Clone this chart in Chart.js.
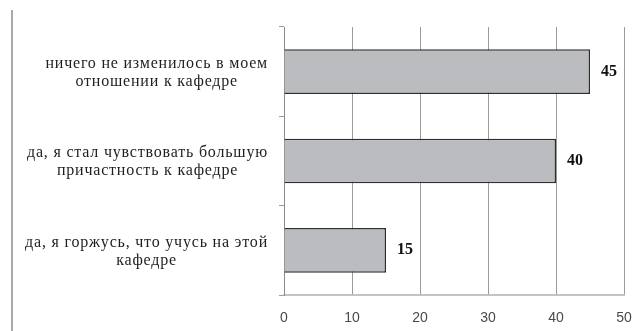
<!DOCTYPE html>
<html>
<head>
<meta charset="utf-8">
<script src="https://cdn.jsdelivr.net/npm/chart.js@4/dist/chart.umd.min.js"></script>
<style>
  html, body { margin: 0; padding: 0; background: #fff; }
  #wrap { width: 640px; height: 331px; position: relative; }
</style>
</head>
<body>
<div id="wrap"><canvas id="c" width="640" height="331"></canvas></div>
<script>
// Survey answers (each answer split into its display lines)
const categories = [
  ["ничего не изменилось в моем", "отношении к кафедре"],
  ["да, я стал чувствовать большую", "причастность к кафедре"],
  ["да, я горжусь, что учусь на этой", "кафедре"]
];
// Share of respondents, %
const values = [45, 40, 15];
// Value axis ticks
const xTicks = [0, 10, 20, 30, 40, 50];

const serif = '"Liberation Serif", "Times New Roman", serif';
const sans = '"Liberation Sans", Arial, sans-serif';

// Page frame line on the left
const frameLine = {
  id: 'frameLine',
  beforeDraw(chart) {
    const ctx = chart.ctx;
    ctx.save();
    ctx.fillStyle = '#fff';
    ctx.fillRect(0, 0, chart.width, chart.height);
    ctx.strokeStyle = '#aaaaaa';
    ctx.lineWidth = 2;
    ctx.beginPath();
    ctx.moveTo(12, 10);
    ctx.lineTo(12, chart.height);
    ctx.stroke();
    ctx.restore();
  }
};

// Category labels: each block right-aligned against the axis, lines centred inside the block
const categoryLabels = {
  id: 'categoryLabels',
  afterDraw(chart) {
    const ctx = chart.ctx;
    const y = chart.scales.y;
    const rightEdge = 268;
    const lineH = 18;
    ctx.save();
    ctx.font = '16px ' + serif;
    ctx.letterSpacing = '0.8px';
    ctx.fillStyle = '#1e1e1e';
    ctx.textBaseline = 'middle';
    ctx.textAlign = 'center';
    chart.data.labels.forEach((lines, i) => {
      const cy = y.getPixelForValue(i) + 1;
      const w = Math.max(...lines.map(l => ctx.measureText(l).width));
      const cx = rightEdge - w / 2;
      const y0 = cy - (lines.length - 1) * lineH / 2;
      lines.forEach((l, k) => ctx.fillText(l, cx, y0 + k * lineH));
    });
    ctx.letterSpacing = '0px';
    ctx.restore();
  }
};

// Value labels to the right of each bar
const valueLabels = {
  id: 'valueLabels',
  afterDatasetsDraw(chart) {
    const ctx = chart.ctx;
    const meta = chart.getDatasetMeta(0);
    ctx.save();
    ctx.font = 'bold 16px ' + serif;
    ctx.fillStyle = '#111';
    ctx.textBaseline = 'middle';
    ctx.textAlign = 'left';
    meta.data.forEach((bar, i) => {
      ctx.fillText(String(chart.data.datasets[0].data[i]), bar.x + 11, bar.y);
    });
    ctx.restore();
  }
};

new Chart(document.getElementById('c'), {
  type: 'bar',
  data: {
    labels: categories,
    datasets: [{
      data: values,
      backgroundColor: '#bbbcc0',
      borderColor: '#2e2e2e',
      borderWidth: 1.5,
      borderSkipped: 'start',
      barPercentage: 0.5,
      categoryPercentage: 1
    }]
  },
  options: {
    indexAxis: 'y',
    responsive: false,
    animation: false,
    layout: { padding: { top: 27, right: 16, left: 0, bottom: 0 } },
    plugins: { legend: { display: false }, tooltip: { enabled: false } },
    scales: {
      x: {
        min: 0,
        max: 50,
        afterBuildTicks(scale) { scale.ticks = xTicks.map(v => ({ value: v })); },
        afterFit(scale) { scale.height = 36; },
        grid: { color: '#9a9a9a', lineWidth: 1, drawTicks: true, tickLength: 15, tickColor: 'rgba(0,0,0,0)' },
        border: { display: true, color: '#c4c4c4', width: 2 },
        ticks: { font: { family: sans, size: 14 }, color: '#4a4a4a', padding: 0 }
      },
      y: {
        afterFit(scale) { scale.width = 284; },
        grid: { offset: true, drawOnChartArea: false, drawTicks: true, tickLength: 5, color: '#9a9a9a' },
        border: { display: true, color: '#8a8a8a', width: 1 },
        ticks: { display: false }
      }
    }
  },
  plugins: [frameLine, categoryLabels, valueLabels]
});
</script>
</body>
</html>
